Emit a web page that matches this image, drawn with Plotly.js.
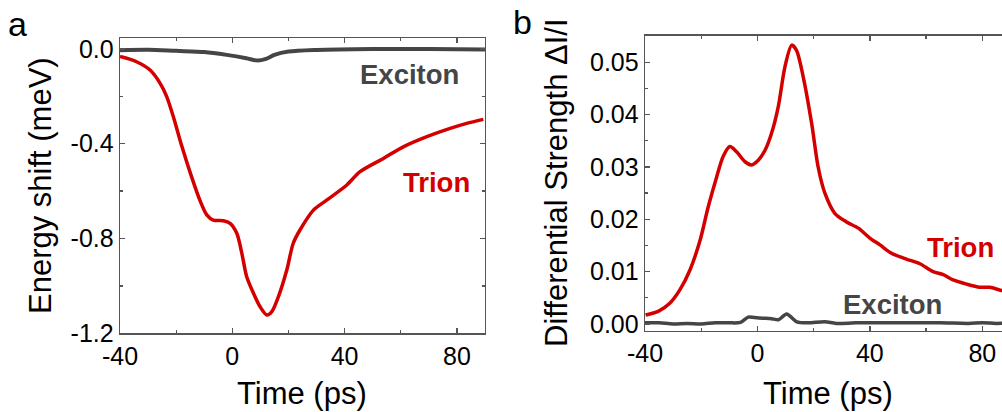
<!DOCTYPE html>
<html>
<head>
<meta charset="utf-8">
<script src="https://cdn.plot.ly/plotly-3.0.1.min.js"></script>
<style>
html,body{margin:0;padding:0;overflow:hidden;background:#fff;}
#chart{width:1012px;height:412px;}
</style>
</head>
<body>
<div id="chart"></div>
<script>
// Panel a: energy shift (meV) vs time (ps)
const trionShiftT = [-40,-34.1,-29.3,-25.7,-23.4,-21,-18,-14.5,-11.5,-9.1,-6.8,-3.2,-0.8,1.6,3.4,5.1,7.5,9.9,12.3,14.0,16.4,19.4,21.7,24.1,28.9,33.6,40.8,45.5,53.8,60.9,69.3,77.6,83.5,89.4];
const trionShift  = [-0.032,-0.054,-0.089,-0.145,-0.20,-0.286,-0.41,-0.54,-0.64,-0.70,-0.722,-0.725,-0.736,-0.778,-0.863,-0.96,-1.03,-1.088,-1.123,-1.11,-1.046,-0.933,-0.82,-0.764,-0.68,-0.638,-0.574,-0.518,-0.462,-0.413,-0.370,-0.335,-0.314,-0.297];
const excitonShiftT = [-40,-30,-20,-10,-2,5,9,12,15,20,30,50,70,90];
const excitonShift  = [-0.005,-0.003,-0.008,-0.013,-0.025,-0.039,-0.049,-0.042,-0.025,-0.011,-0.004,0.0,0.0,-0.002];

// Panel b: differential strength vs time (ps)
const trionStrT = [-39.8,-35.3,-31.1,-27.6,-24,-20.4,-17.5,-14.5,-12.2,-9.8,-7.4,-4.4,-2.1,0.3,2.7,5.0,7.4,9.8,12.2,13.9,16.3,19.3,21.6,24,27.6,31.7,35.9,40,43.6,47.7,53,57.8,62.5,66.1,69.6,74.4,79.1,82.7,86.8,90];
const trionStr  = [0.0017,0.0024,0.004,0.0065,0.0103,0.016,0.0224,0.0281,0.032,0.0339,0.0329,0.031,0.0304,0.0313,0.0332,0.0364,0.0415,0.0492,0.0533,0.0523,0.0472,0.0383,0.030,0.025,0.0211,0.0195,0.0183,0.0164,0.0151,0.0135,0.0124,0.0115,0.0100,0.0094,0.0084,0.0076,0.0070,0.0070,0.0064,0.0062];
const excitonStrT = [-40,-35,-30,-25,-20,-15,-10,-6,-3.3,-1,2,5,7.5,10.4,14,18,24,28,35,45,55,65,75,80,85,90];
const excitonStr  = [0.0002,0.0002,0.0000,0.0001,0.0000,0.0002,0.0002,0.0003,0.0013,0.0012,0.0011,0.0010,0.0008,0.0019,0.0004,0.0002,0.0004,0.0001,0.0002,0.0002,0.0002,0.0002,0.0001,0.0002,0.0001,0.0002];

// Tick labels
const timeTicks = [-40,0,40,80];
const timeTickText = ['-40','0','40','80'];
const shiftTicks = [0,-0.4,-0.8,-1.2];
const shiftTickText = ['0.0','-0.4','-0.8','-1.2'];
const strTicks = [0,0.01,0.02,0.03,0.04,0.05];
const strTickText = ['0.00','0.01','0.02','0.03','0.04','0.05'];

const RED = '#d40000';
const GRAY = '#454545';
const AX = '#555555';
const FONT = 'Liberation Sans, Arial, sans-serif';
const W = 1012, H = 412;

const traces = [
  {x: excitonShiftT, y: excitonShift, xaxis:'x', yaxis:'y', mode:'lines', line:{color:GRAY, width:4, shape:'spline', smoothing:0.8}},
  {x: trionShiftT, y: trionShift, xaxis:'x', yaxis:'y', mode:'lines', line:{color:RED, width:3.5, shape:'spline', smoothing:0.8}},
  {x: excitonStrT, y: excitonStr, xaxis:'x2', yaxis:'y2', mode:'lines', line:{color:GRAY, width:3.5, shape:'spline', smoothing:0.8}},
  {x: trionStrT, y: trionStr, xaxis:'x2', yaxis:'y2', mode:'lines', line:{color:RED, width:3.5, shape:'spline', smoothing:0.8}}
];

function axBase(){
  return {showline:true, mirror:'ticks', linecolor:AX, linewidth:1.3, ticks:'inside', ticklen:5, tickwidth:1.3, tickcolor:AX,
          showgrid:false, zeroline:false, tickfont:{family:FONT, size:25, color:'#000'}, fixedrange:true};
}
const xa = Object.assign(axBase(), {domain:[120/W, 485/W], range:[-40,90], tickmode:'array', tickvals:timeTicks, ticktext:timeTickText, anchor:'y',
  minor:{ticks:'inside', ticklen:3, tickcolor:AX, tickmode:'linear', tick0:-20, dtick:40}});
const ya = Object.assign(axBase(), {domain:[(H-333.3)/H, (H-38.3)/H], range:[-1.2,0.045], tickmode:'array', tickvals:shiftTicks, ticktext:shiftTickText, anchor:'x',
  minor:{ticks:'inside', ticklen:3, tickcolor:AX, tickmode:'linear', tick0:-0.2, dtick:0.4}});
const xb = Object.assign(axBase(), {domain:[645/W, 1010.4/W], range:[-40,90], tickmode:'array', tickvals:timeTicks, ticktext:timeTickText, anchor:'y2',
  minor:{ticks:'inside', ticklen:3, tickcolor:AX, tickmode:'linear', tick0:-20, dtick:40}});
const yb = Object.assign(axBase(), {domain:[(H-330.7)/H, (H-35.7)/H], range:[-0.0013,0.0551], tickmode:'array', tickvals:strTicks, ticktext:strTickText, anchor:'x2',
  minor:{ticks:'inside', ticklen:3, tickcolor:AX, tickmode:'linear', tick0:0.005, dtick:0.01}});

function px(x){return x/W;}
function py(y){return 1 - y/H;}
const annotations = [
  {text:'a', x:px(17), y:py(24), font:{family:FONT, size:34, color:'#000'}},
  {text:'b', x:px(522), y:py(22), font:{family:FONT, size:34, color:'#000'}},
  {text:'Time (ps)', x:px(302), y:py(393), font:{family:FONT, size:31, color:'#000'}},
  {text:'Time (ps)', x:px(828), y:py(393), font:{family:FONT, size:31, color:'#000'}},
  {text:'Energy shift (meV)', x:px(40), y:py(186), textangle:-90, font:{family:FONT, size:31, color:'#000'}},
  {text:'Differential Strength ΔI/I', x:px(556), y:py(183), textangle:-90, font:{family:FONT, size:31, color:'#000'}},
  {text:'<b>Exciton</b>', x:px(409), y:py(74), font:{family:FONT, size:27.5, color:GRAY}},
  {text:'<b>Trion</b>', x:px(436), y:py(182), font:{family:FONT, size:27.5, color:RED}},
  {text:'<b>Trion</b>', x:px(960), y:py(248), font:{family:FONT, size:27.5, color:RED}},
  {text:'<b>Exciton</b>', x:px(892), y:py(304), font:{family:FONT, size:27.5, color:GRAY}}
].map(a => Object.assign({xref:'paper', yref:'paper', showarrow:false, xanchor:'center', yanchor:'middle'}, a));

const layout = {
  width:W, height:H, margin:{l:0,r:0,t:0,b:0}, showlegend:false,
  paper_bgcolor:'#fff', plot_bgcolor:'#fff',
  xaxis:xa, yaxis:ya, xaxis2:xb, yaxis2:yb, annotations:annotations,
  font:{family:FONT}
};
Plotly.newPlot('chart', traces, layout, {displayModeBar:false, staticPlot:true});
</script>
</body>
</html>
